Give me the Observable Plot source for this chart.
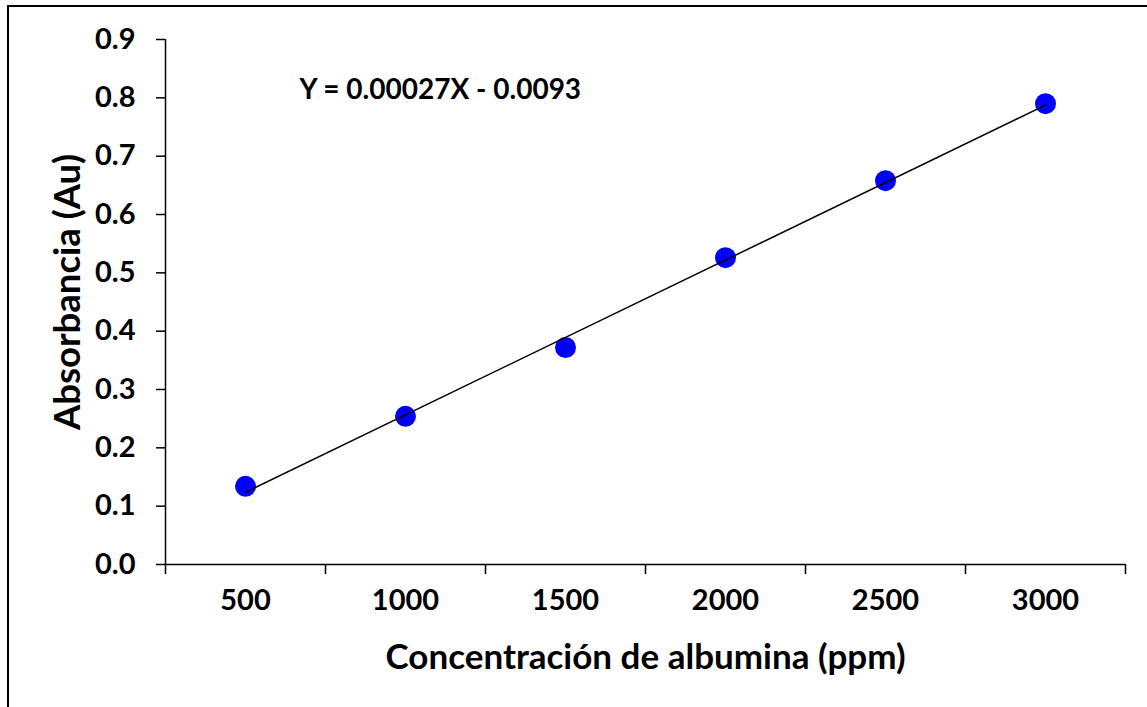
<!DOCTYPE html>
<html><head><meta charset="utf-8">
<script src="https://cdn.jsdelivr.net/npm/d3@7"></script>
<script src="https://cdn.jsdelivr.net/npm/@observablehq/plot@0.6"></script>
<style>
html,body{margin:0;padding:0;background:#fff;overflow:hidden}
#wrap{position:relative;width:1147px;height:707px;overflow:hidden}
#border{position:absolute;left:7px;top:5px;width:1200px;height:800px;border:2px solid #000;box-sizing:border-box;pointer-events:none}
#chart{position:absolute;left:0;top:0}
</style></head><body>
<div id="wrap"><div id="border"></div><div id="chart"></div></div>
<script>
// Data
const concentrations = [500, 1000, 1500, 2000, 2500, 3000];
const absorbance = [0.134, 0.254, 0.372, 0.526, 0.658, 0.790];
const yTicks = [0, 0.1, 0.2, 0.3, 0.4, 0.5, 0.6, 0.7, 0.8, 0.9];
const xBoundaries = [250, 750, 1250, 1750, 2250, 2750, 3250];
const xTitle = "Concentración de albumina (ppm)";
const yTitle = "Absorbancia (Au)";
const equation = "Y = 0.00027X - 0.0093";

const data = concentrations.map((c, i) => ({c, a: absorbance[i]}));

const chart = Plot.plot({
  width: 1147, height: 707,
  marginLeft: 165, marginRight: 22, marginTop: 39, marginBottom: 143,
  style: {fontFamily: "Lato, sans-serif", fontWeight: "bold", background: "transparent", color: "#000"},
  x: {type: "linear", domain: [250, 3250]},
  y: {domain: [0, 0.9]},
  marks: [
    Plot.ruleY([0], {stroke: "#000", strokeWidth: 1.5}),
    Plot.ruleX([250], {stroke: "#000", strokeWidth: 1.5}),
    Plot.axisY(yTicks, {tickSize: 9, tickPadding: 21, tickFormat: d => d.toFixed(1), fontSize: 29, label: null, strokeWidth: 1.5}),
    Plot.axisX(xBoundaries, {tickSize: 10, tickFormat: () => "", label: null, strokeWidth: 1.5}),
    Plot.axisX(concentrations, {tickSize: 0, tickPadding: 25, fontSize: 29, label: null, tickFormat: d => String(d)}),
    Plot.dot(data, {x: "c", y: "a", r: 10.5, fill: "#0000ff"}),
    Plot.linearRegressionY(data, {x: "c", y: "a", stroke: "#000", strokeWidth: 1.5, ci: 0}),
    Plot.text([xTitle], {text: d => d, frameAnchor: "bottom", dy: 104, lineAnchor: "bottom", fontSize: 35}),
    Plot.text([yTitle], {text: d => d, frameAnchor: "left", textAnchor: "middle", rotate: -90, dx: -86, dy: -10, lineAnchor: "bottom", fontSize: 36.5}),
    Plot.text([equation], {text: d => d, frameAnchor: "top-left", textAnchor: "start", dx: 134, dy: 59, lineAnchor: "bottom", fontSize: 28})
  ]
});
document.getElementById("chart").appendChild(chart);
</script>
</body></html>
